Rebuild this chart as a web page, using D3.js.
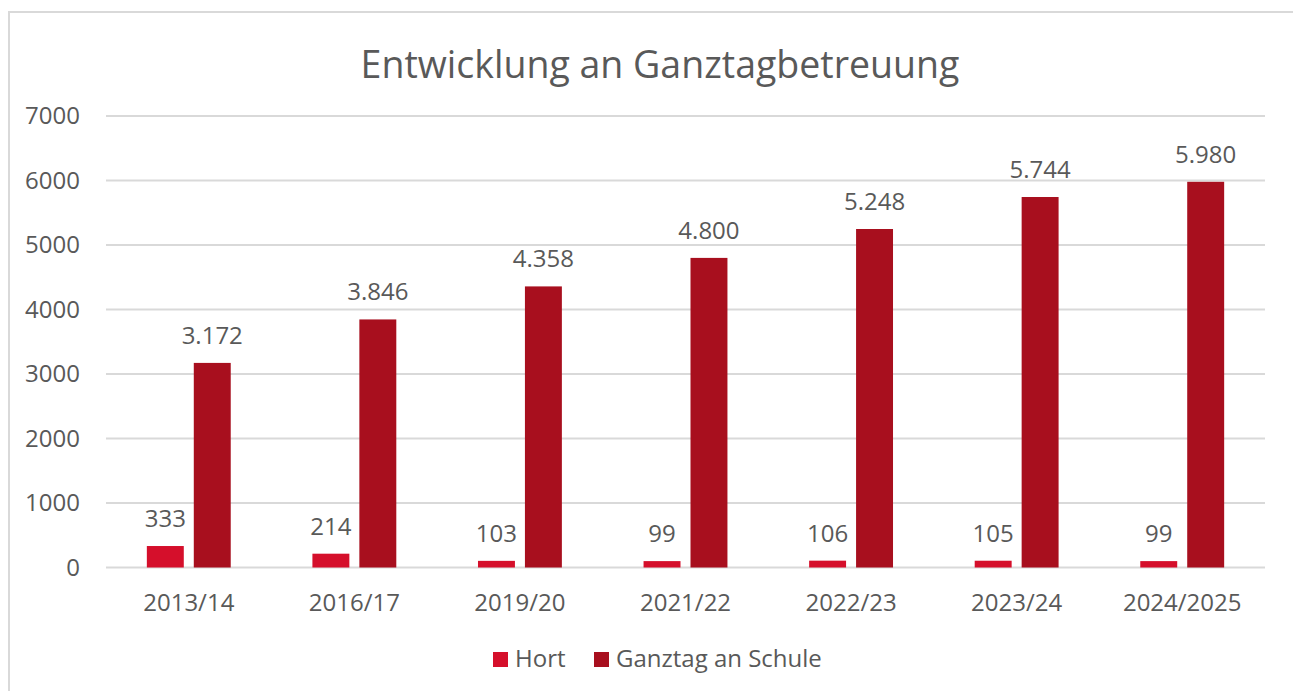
<!DOCTYPE html>
<html>
<head>
<meta charset="utf-8">
<script src="https://cdn.jsdelivr.net/npm/d3@7"></script>
<style>
  body { margin: 0; background: #fff; }
  text { font-family: "Open Sans", sans-serif; fill: #595959; }
</style>
</head>
<body>
<div class="main_area"></div>
<script>
const categories = ["2013/14", "2016/17", "2019/20", "2021/22", "2022/23", "2023/24", "2024/2025"];
const hortValues = [333, 214, 103, 99, 106, 105, 99];
const ganztagValues = [3172, 3846, 4358, 4800, 5248, 5744, 5980];
const seriesNames = ["Hort", "Ganztag an Schule"];
const seriesColors = ["#d50f2b", "#a80f1e"];
const yTicks = [0, 1000, 2000, 3000, 4000, 5000, 6000, 7000];

const width = 1293, height = 691;
const plot = {left: 106, right: 1265, top: 116, bottom: 567.5};

const svg = d3.select(".main_area")
  .append("svg")
  .attr("width", width)
  .attr("height", height);

// outer frame
svg.append("rect")
  .attr("x", 9)
  .attr("y", 12)
  .attr("width", 1300)
  .attr("height", 700)
  .attr("fill", "none")
  .attr("stroke", "#d9d9d9")
  .attr("stroke-width", 2);

svg.append("text")
  .attr("x", 660)
  .attr("y", 78)
  .attr("text-anchor", "middle")
  .style("font-size", "37.5px")
  .text("Entwicklung an Ganztagbetreuung");

const x = d3.scaleBand()
  .domain(categories)
  .range([plot.left, plot.right]);

const xInner = d3.scaleBand()
  .domain(seriesNames)
  .range([0, x.bandwidth()])
  .paddingInner(0.213)
  .paddingOuter(0.87);

const y = d3.scaleLinear()
  .domain([0, 7000])
  .range([plot.bottom, plot.top]);

// grid lines
svg.append("g")
  .selectAll("line")
  .data(yTicks)
  .join("line")
    .attr("x1", plot.left)
    .attr("x2", plot.right)
    .attr("y1", d => y(d))
    .attr("y2", d => y(d))
    .attr("stroke", "#d9d9d9")
    .attr("stroke-width", 2);

const yAxis = svg.append("g")
  .attr("transform", "translate(" + (plot.left - 26) + ",0)")
  .call(d3.axisLeft(y).tickValues(yTicks).tickSize(0).tickPadding(0).tickFormat(d => d));
yAxis.select(".domain").remove();
yAxis.selectAll("text")
  .style("font-size", "24px")
  .style("font-family", "Open Sans, sans-serif")
  .attr("fill", "#595959");

const xAxis = svg.append("g")
  .attr("transform", "translate(0," + plot.bottom + ")")
  .call(d3.axisBottom(x).tickSize(0).tickPadding(26));
xAxis.select(".domain").remove();
xAxis.selectAll("text")
  .style("font-size", "24px")
  .style("font-family", "Open Sans, sans-serif")
  .attr("fill", "#595959");

const rows = categories.map((c, i) => ({cat: c, vals: [hortValues[i], ganztagValues[i]]}));
const fmt = d3.formatLocale({decimal: ",", thousands: ".", grouping: [3], currency: ["", "€"]}).format(",d");

const groups = svg.append("g")
  .selectAll("g")
  .data(rows)
  .join("g")
    .attr("transform", d => "translate(" + x(d.cat) + ",0)");

groups.selectAll("rect")
  .data(d => d.vals.map((v, j) => ({name: seriesNames[j], value: v, color: seriesColors[j]})))
  .join("rect")
    .attr("x", d => xInner(d.name))
    .attr("width", xInner.bandwidth())
    .attr("y", d => y(d.value))
    .attr("height", d => y(0) - y(d.value))
    .attr("fill", d => d.color);

groups.selectAll("text.val")
  .data(d => d.vals.map((v, j) => ({name: seriesNames[j], value: v})))
  .join("text")
    .attr("class", "val")
    .attr("x", d => xInner(d.name) + xInner.bandwidth() / 2)
    .attr("y", d => y(d.value) - 19)
    .attr("text-anchor", "middle")
    .style("font-size", "24px")
    .text(d => fmt(d.value));

// legend
const legendX = [493, 594];
const legend = svg.append("g")
  .selectAll("g")
  .data(seriesNames)
  .join("g")
    .attr("transform", (d, i) => "translate(" + legendX[i] + ",652)");
legend.append("rect")
  .attr("width", 15)
  .attr("height", 15)
  .attr("fill", (d, i) => seriesColors[i]);
legend.append("text")
  .attr("x", 22)
  .attr("y", 15)
  .style("font-size", "24px")
  .text(d => d);
</script>
</body>
</html>
